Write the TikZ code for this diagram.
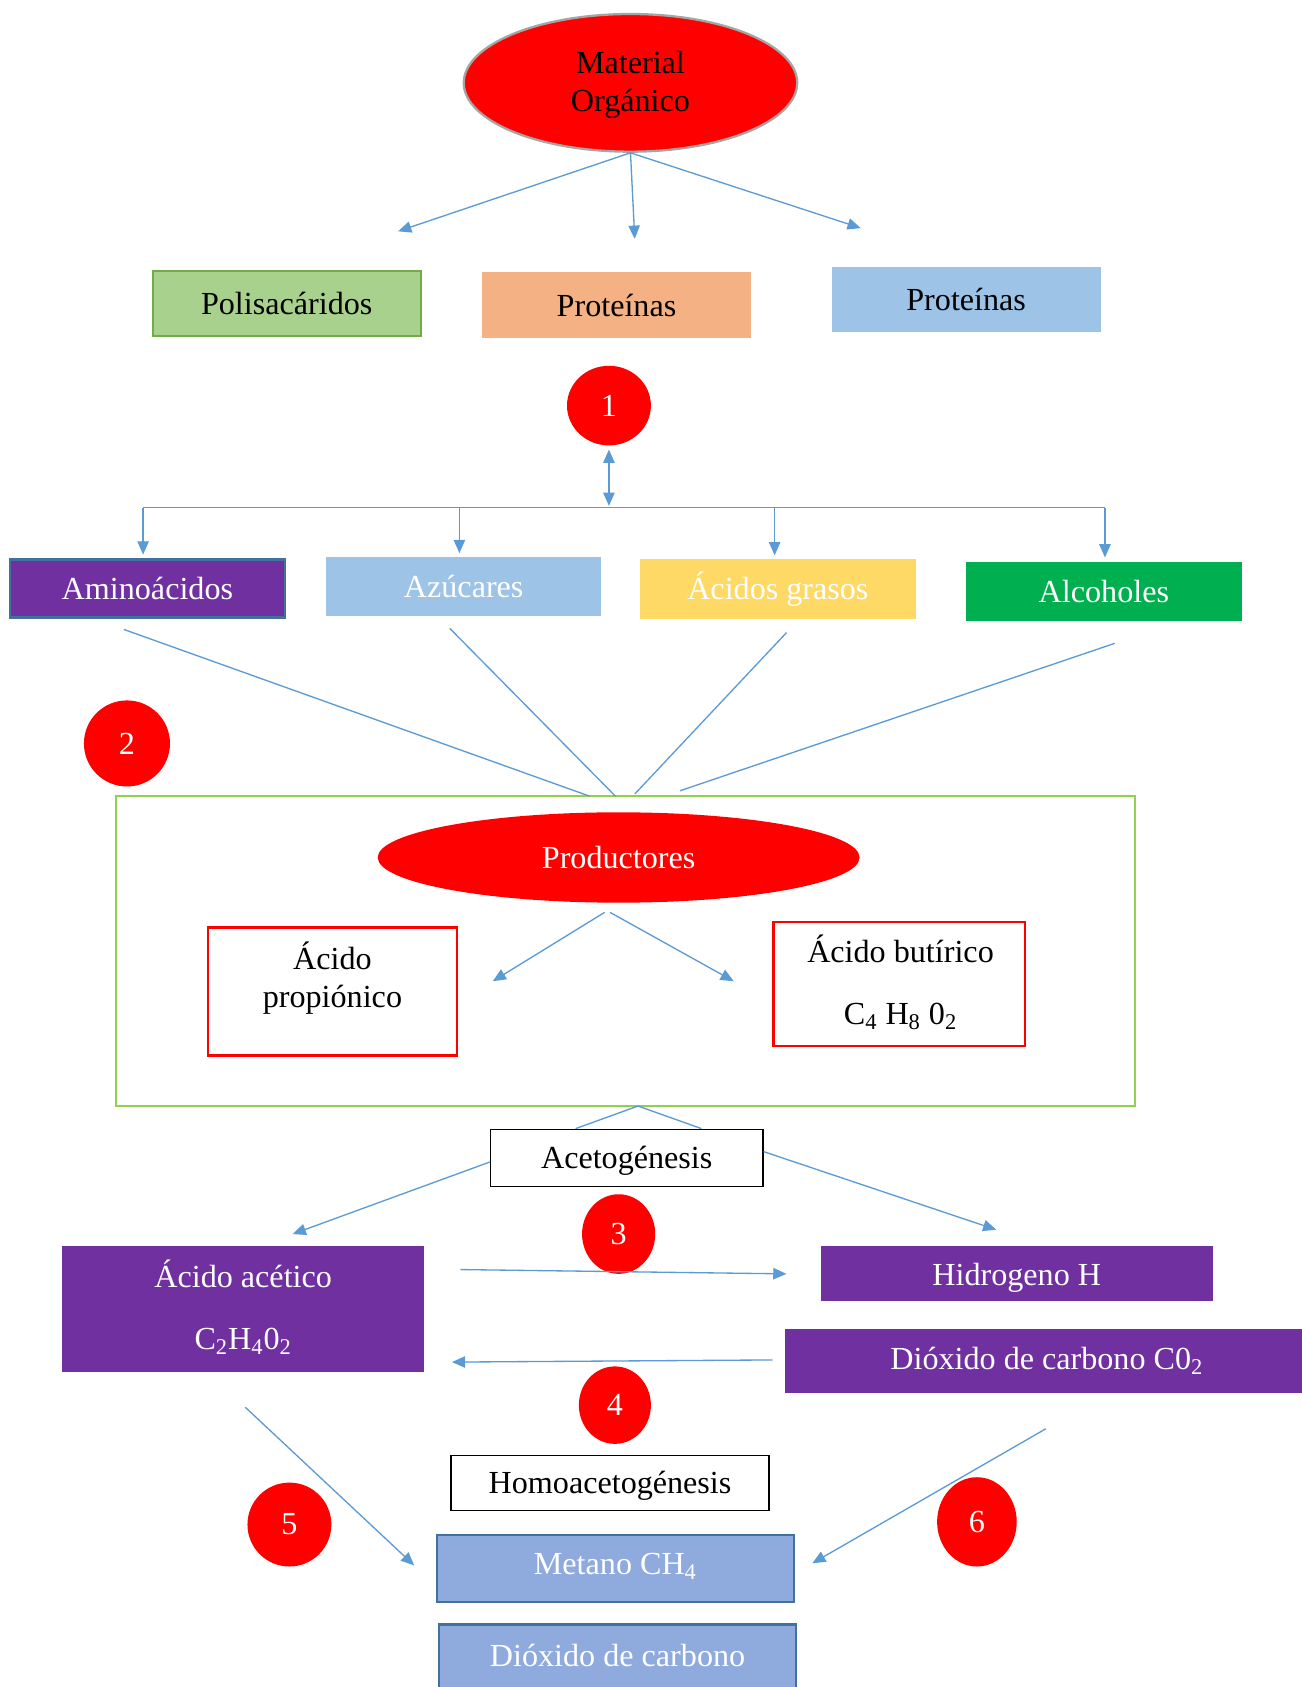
\documentclass[tikz,border=0pt]{standalone}
\usepackage{fontspec}
\setmainfont{Liberation Serif}
\usetikzlibrary{arrows.meta,shapes.geometric}
\definecolor{lb}{HTML}{5B9BD5}
\definecolor{pgreen}{HTML}{A9D18E}
\definecolor{dgreen}{HTML}{70AD47}
\definecolor{porange}{HTML}{F4B183}
\definecolor{pblue}{HTML}{9DC3E6}
\definecolor{purp}{HTML}{7030A0}
\definecolor{pyel}{HTML}{FFD966}
\definecolor{vgreen}{HTML}{00B050}
\definecolor{lgreen}{HTML}{92D050}
\definecolor{mblue}{HTML}{8FAADC}
\definecolor{dblue}{HTML}{41719C}
\definecolor{grayb}{HTML}{A5A5A5}
\tikzset{
  arr/.style={draw=lb, line width=0.7pt, -{Triangle[length=7pt,width=6pt]}},
  ln/.style={draw=lb, line width=0.7pt},
  num/.style={ellipse, fill=red, text=white, inner sep=0pt},
  bx/.style={rectangle, inner sep=0pt, align=center},
}
\begin{document}
\begin{tikzpicture}[x=0.02cm,y=-0.02cm,font=\fontsize{17}{20.4}\selectfont]
\clip (0,0) rectangle (1210,1568);
\fill[white] (0,0) rectangle (1210,1568);

% top
\node[ellipse, fill=red, draw=grayb, line width=1.2pt, minimum width=6.2cm, minimum height=2.56cm] (mat) at (586,77) {};
\node[align=center, inner sep=0pt] (matt) at (586,79) {Material\\Orgánico};
\node[bx, fill=pgreen, draw=dgreen, line width=1.2pt, minimum width=4.98cm, minimum height=1.2cm] (poli) at (266.5,282) {Polisacáridos};
\node[bx, fill=porange, minimum width=5cm, minimum height=1.22cm] (prot1) at (573,283.5) {Proteínas};
\node[bx, fill=pblue, minimum width=5cm, minimum height=1.22cm] (prot2) at (898,278.5) {Proteínas};
\coordinate (e1) at (370,215);
\coordinate (e2) at (590,222);
\coordinate (e3) at (800,212);
\draw[arr] (mat.south) -- (e1);
\draw[arr] (mat.south) -- (e2);
\draw[arr] (mat.south) -- (e3);

% stage 1
\node[num, minimum width=1.56cm, minimum height=1.48cm] (c1) at (566,377) {1};
\coordinate (hub) at (566,472);
\draw[draw=lb, line width=0.7pt, {Triangle[length=7pt,width=6pt]}-{Triangle[length=7pt,width=6pt]}] ([yshift=-2pt]c1.south) -- ([yshift=1pt]hub);
\coordinate (bl) at (133,472);
\coordinate (br) at (1027,472);
\draw[ln] (bl) -- (br);
\node[bx, fill=purp, draw=dblue, line width=1.2pt, text=white, minimum width=5.12cm, minimum height=1.08cm] (amino) at (137,547) {Aminoácidos};
\node[bx, fill=pblue, text=white, minimum width=5.12cm, minimum height=1.1cm] (azu) at (431,545.5) {Azúcares};
\node[bx, fill=pyel, text=white, minimum width=5.12cm, minimum height=1.1cm] (acg) at (723,547.5) {Ácidos grasos};
\node[bx, fill=vgreen, text=white, minimum width=5.12cm, minimum height=1.1cm] (alc) at (1026,549.5) {Alcoholes};
\coordinate (b2) at (427,472);
\coordinate (b3) at (720,472);
\draw[arr] (bl) -- ([yshift=2pt]bl |- amino.north);
\draw[arr] (b2) -- ([yshift=2pt]b2 |- azu.north);
\draw[arr] (b3) -- ([yshift=2pt]b3 |- acg.north);
\draw[arr] (br) -- ([yshift=2pt]br |- alc.north);

% stage 2
\node[num, minimum size=1.6cm] (c2) at (118,691) {2};
\node[rectangle, draw=lgreen, line width=1.2pt, minimum width=18.94cm, minimum height=5.76cm] (gbox) at (581.5,884) {};
\coordinate (s1) at (115,585);
\coordinate (s2) at (418,584);
\coordinate (s3) at (731,588);
\coordinate (s4) at (1036,598);
\coordinate (t1) at (548,740);
\coordinate (t2) at (572,740);
\coordinate (t3) at (590,738);
\coordinate (t4) at (632,735);
\draw[ln] (s1) -- (t1);
\draw[ln] (s2) -- (t2);
\draw[ln] (s3) -- (t3);
\draw[ln] (s4) -- (t4);

\node[ellipse, fill=red, text=white, minimum width=8.96cm, minimum height=1.68cm] (prod) at (575,797) {Productores};
\node[bx, draw=red, line width=1.2pt, minimum width=4.64cm, minimum height=2.38cm] (prop) at (309,921.5) {};
\node[align=center, inner sep=0pt] (propt) at (309,909) {Ácido\\propiónico};
\node[bx, draw=red, line width=1.2pt, minimum width=4.68cm, minimum height=2.3cm] (but) at (836,914.5) {};
\node[align=center, inner sep=0pt] (butt) at (837,913) {Ácido butírico\\[12pt]C\textsubscript{4} H\textsubscript{8} 0\textsubscript{2}};
\coordinate (p0) at (562,848);
\coordinate (p0b) at (567,848);
\coordinate (p1) at (458,912);
\coordinate (p2) at (682,912);
\draw[arr] (p0) -- (p1);
\draw[arr] (p0b) -- (p2);

% acetogenesis
\node[bx, draw=black, line width=0.8pt, fill=white, minimum width=5.06cm, minimum height=1.06cm] (aceto) at (582.5,1076.5) {};
\node[inner sep=0pt] (acetot) at (582.5,1079) {Acetogénesis};
\coordinate (gb) at (593,1028);
\draw[ln] (gb) -- (535,1049);
\draw[ln] (gb) -- (652,1049);
\coordinate (a1) at (272,1147);
\coordinate (a2) at (926,1143);
\draw[arr] ([yshift=-2pt]aceto.west) -- (a1);
\draw[arr] ([yshift=3.5pt]aceto.east) -- (a2);

\node[num, minimum width=1.36cm, minimum height=1.48cm] (c3) at (575,1147) {3};
\node[bx, fill=purp, text=white, minimum width=6.72cm, minimum height=2.34cm] (acet) at (226,1216.5) {};
\node[align=center, inner sep=0pt, text=white] (acett) at (226,1215) {Ácido acético\\[12pt]C\textsubscript{2}H\textsubscript{4}0\textsubscript{2}};
\node[bx, fill=purp, minimum width=7.28cm, minimum height=1.02cm] (hid) at (945,1183.5) {};
\node[inner sep=0pt, text=white] (hidt) at (945,1188) {Hidrogeno H};
\node[bx, fill=purp, minimum width=9.6cm, minimum height=1.2cm] (dio) at (970,1265) {};
\node[inner sep=0pt, text=white] (diot) at (973,1265) {Dióxido de carbono C0\textsubscript{2}};
\coordinate (h1) at (428,1180);
\coordinate (h2) at (731,1184);
\draw[arr] (h1) -- (h2);
\coordinate (k1) at (718,1264);
\coordinate (k2) at (420,1266);
\draw[arr] (k1) -- (k2);

\node[num, minimum width=1.34cm, minimum height=1.44cm] (c4) at (571.5,1306) {4};
\node[bx, draw=black, line width=0.8pt, minimum width=5.92cm, minimum height=1.02cm] (homo) at (567,1378.5) {};
\node[inner sep=0pt] (homot) at (567,1381) {Homoacetogénesis};

\node[bx, fill=mblue, draw=dblue, line width=1.2pt, minimum width=6.64cm, minimum height=1.24cm] (met) at (572,1458) {};
\node[inner sep=0pt, text=white] (mett) at (572,1456) {Metano CH\textsubscript{4}};
\node[bx, fill=mblue, draw=dblue, line width=1.2pt, minimum width=6.64cm, minimum height=1.8cm] (dio2) at (574,1555) {};
\node[inner sep=0pt, text=white] (dio2t) at (574,1539) {Dióxido de carbono};

\coordinate (m1) at (228,1308);
\coordinate (m2) at (385,1455);
\coordinate (n1) at (972,1328);
\coordinate (n2) at (755,1453);
\draw[arr] (m1) -- (m2);
\draw[arr] (n1) -- (n2);
\node[num, minimum size=1.56cm] (c5) at (269,1417) {5};
\node[num, minimum width=1.48cm, minimum height=1.66cm] (c6) at (908,1414.5) {6};
\end{tikzpicture}
\end{document}
